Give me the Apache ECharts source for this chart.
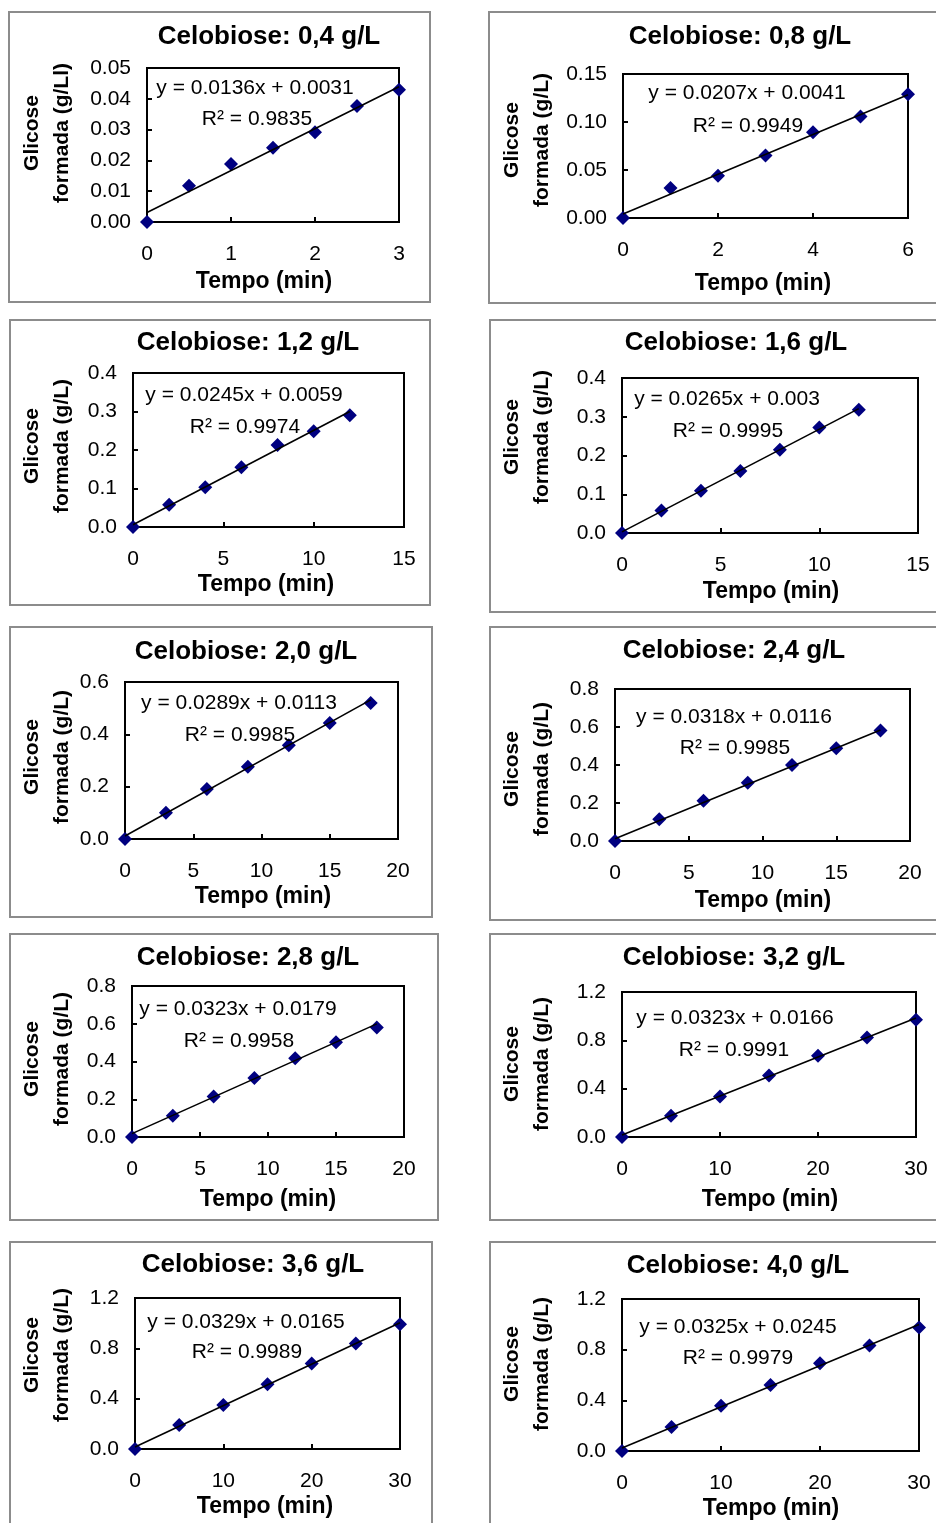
<!DOCTYPE html>
<html>
<head>
<meta charset="utf-8">
<title>Glicose formada x Tempo</title>
<script src="https://cdn.jsdelivr.net/npm/echarts@6/dist/echarts.min.js"></script>
<style>
  html, body { margin: 0; padding: 0; background: #fff; }
  #chart { width: 936px; height: 1523px; }
</style>
</head>
<body>
<div id="chart"></div>
<script>
// Cellobiose concentration of each run (panel titles)
const concentracoes = ['0,4', '0,8', '1,2', '1,6', '2,0', '2,4', '2,8', '3,2', '3,6', '4,0'];

// Sampling times (min) and glucose formed (g/L) for each run
const tempo_0_4 = [0, 0.5, 1, 1.5, 2, 2.5, 3];
const glicose_0_4 = [0, 0.0118, 0.0188, 0.0241, 0.0291, 0.0377, 0.0429];
const tempo_0_8 = [0, 1, 2, 3, 4, 5, 6];
const glicose_0_8 = [0, 0.0312, 0.044, 0.0651, 0.0894, 0.1056, 0.1289];
const tempo_1_2 = [0, 2, 4, 6, 8, 10, 12];
const glicose_1_2 = [0, 0.0577, 0.1035, 0.1552, 0.213, 0.249, 0.29];
const tempo_1_6 = [0, 2, 4, 6, 8, 10, 12];
const glicose_1_6 = [0, 0.058, 0.109, 0.16, 0.215, 0.272, 0.318];
const tempo_2_0 = [0, 3, 6, 9, 12, 15, 18];
const glicose_2_0 = [0, 0.1003, 0.1907, 0.2758, 0.3585, 0.4436, 0.52];
const tempo_2_4 = [0, 3, 6, 9, 12, 15, 18];
const glicose_2_4 = [0, 0.1147, 0.2114, 0.3065, 0.40, 0.4882, 0.5812];
const tempo_2_8 = [0, 3, 6, 9, 12, 15, 18];
const glicose_2_8 = [0, 0.1126, 0.2147, 0.312, 0.4177, 0.5023, 0.5795];
const tempo_3_2 = [0, 5, 10, 15, 20, 25, 30];
const glicose_3_2 = [0, 0.1763, 0.336, 0.5098, 0.6728, 0.8243, 0.9708];
const tempo_3_6 = [0, 5, 10, 15, 20, 25, 30];
const glicose_3_6 = [0, 0.1903, 0.349, 0.5155, 0.6797, 0.8383, 0.9914];
const tempo_4_0 = [0, 5, 10, 15, 20, 25, 30];
const glicose_4_0 = [0, 0.1902, 0.3567, 0.5207, 0.6927, 0.8322, 0.9749];

const tempos = [tempo_0_4, tempo_0_8, tempo_1_2, tempo_1_6, tempo_2_0, tempo_2_4, tempo_2_8, tempo_3_2, tempo_3_6, tempo_4_0];
const glicoses = [glicose_0_4, glicose_0_8, glicose_1_2, glicose_1_6, glicose_2_0, glicose_2_4, glicose_2_8, glicose_3_2, glicose_3_6, glicose_4_0];

// Linear fits y = a·x + b and their R²
const inclinacoes = [0.0136, 0.0207, 0.0245, 0.0265, 0.0289, 0.0318, 0.0323, 0.0323, 0.0329, 0.0325];
const interceptos = [0.0031, 0.0041, 0.0059, 0.003, 0.0113, 0.0116, 0.0179, 0.0166, 0.0165, 0.0245];
const r2 = [0.9835, 0.9949, 0.9974, 0.9995, 0.9985, 0.9985, 0.9958, 0.9991, 0.9989, 0.9979];

// Axis scales and tick labels
const xMax = [3, 6, 15, 15, 20, 20, 20, 30, 30, 30];
const xStep = [1, 2, 5, 5, 5, 5, 5, 10, 10, 10];
const yMax = [0.05, 0.15, 0.4, 0.4, 0.6, 0.8, 0.8, 1.2, 1.2, 1.2];
const yStep = [0.01, 0.05, 0.1, 0.1, 0.2, 0.2, 0.2, 0.4, 0.4, 0.4];
const yDecimais = [2, 2, 1, 1, 1, 1, 1, 1, 1, 1];
const yTitulos = ['formada (g/Ll)', 'formada (g/L)', 'formada (g/L)', 'formada (g/L)', 'formada (g/L)',
                  'formada (g/L)', 'formada (g/L)', 'formada (g/L)', 'formada (g/L)', 'formada (g/L)'];

// Page layout of each panel (pixels): frame, plot area, and text anchors
const layout = [
  { box: [9, 12, 430, 302],    grid: [147, 68, 399, 222],   title: [269, 37],   xname: [264, 282],  yname: [47, 133],   eq: [255, 88],   r2: [257, 119] },
  { box: [489, 12, 945, 303],  grid: [623, 74, 908, 218],   title: [740, 37],   xname: [763, 284],  yname: [527, 140],  eq: [747, 93],   r2: [748, 126] },
  { box: [10, 320, 430, 605],  grid: [133, 373, 404, 527],  title: [248, 343],  xname: [266, 585],  yname: [47, 446],   eq: [244, 395],  r2: [245, 427] },
  { box: [490, 320, 945, 612], grid: [622, 378, 918, 533],  title: [736, 343],  xname: [771, 592],  yname: [527, 437],  eq: [727, 399],  r2: [728, 431] },
  { box: [10, 627, 432, 917],  grid: [125, 682, 398, 839],  title: [246, 652],  xname: [263, 897],  yname: [47, 757],   eq: [239, 703],  r2: [240, 735] },
  { box: [490, 627, 945, 920], grid: [615, 689, 910, 841],  title: [734, 651],  xname: [763, 901],  yname: [527, 769],  eq: [734, 717],  r2: [735, 748] },
  { box: [10, 934, 438, 1220], grid: [132, 986, 404, 1137], title: [248, 958],  xname: [268, 1200], yname: [47, 1059],  eq: [238, 1009], r2: [239, 1041] },
  { box: [490, 934, 945, 1220],grid: [622, 992, 916, 1137], title: [734, 958],  xname: [770, 1200], yname: [527, 1064], eq: [735, 1018], r2: [734, 1050] },
  { box: [10, 1242, 432, 1530],grid: [135, 1298, 400, 1449],title: [253, 1265], xname: [265, 1507], yname: [47, 1355],  eq: [246, 1322], r2: [247, 1352] },
  { box: [490, 1242, 945, 1530],grid: [622, 1299, 919, 1451],title: [738, 1266],xname: [771, 1509], yname: [527, 1364], eq: [738, 1327], r2: [738, 1358] }
];

const FONT = '"Liberation Sans", Arial, Helvetica, sans-serif';
const NAVY = '#000080';

function textEl(x, y, text, size, bold, extra) {
  return Object.assign({
    type: 'text', x: x, y: y, silent: true, z: 10,
    style: {
      text: text,
      font: (bold ? 'bold ' : '') + size + 'px ' + FONT,
      fill: '#000',
      align: 'center', verticalAlign: 'middle',
      textAlign: 'center', textVerticalAlign: 'middle'
    }
  }, extra || {});
}

const option = {
  animation: false,
  backgroundColor: '#fff',
  title: [], grid: [], xAxis: [], yAxis: [], series: [], graphic: []
};

layout.forEach(function (p, i) {
  const [gl, gt, gr, gb] = p.grid;
  const [bl, bt, br, bb] = p.box;

  // panel frame
  option.graphic.push({
    type: 'rect', silent: true, z: 0,
    shape: { x: bl, y: bt, width: br - bl, height: bb - bt },
    style: { fill: 'none', stroke: '#8c8c8c', lineWidth: 2 }
  });

  option.grid.push({
    left: gl, top: gt, width: gr - gl, height: gb - gt,
    show: true, borderColor: '#000', borderWidth: 2, backgroundColor: 'transparent',
    containLabel: false
  });

  option.xAxis.push({
    type: 'value', gridIndex: i, min: 0, max: xMax[i], interval: xStep[i],
    axisLine: { show: true, onZero: false, lineStyle: { color: '#000', width: 2 } },
    axisTick: { show: true, inside: true, length: 5, lineStyle: { color: '#000', width: 2 } },
    axisLabel: { margin: 22, fontSize: 21, fontFamily: FONT, color: '#000' },
    splitLine: { show: false }
  });

  option.yAxis.push({
    type: 'value', gridIndex: i, min: 0, max: yMax[i], interval: yStep[i],
    axisLine: { show: true, onZero: false, lineStyle: { color: '#000', width: 2 } },
    axisTick: { show: true, inside: true, length: 5, lineStyle: { color: '#000', width: 2 } },
    axisLabel: {
      margin: 16, fontSize: 21, fontFamily: FONT, color: '#000',
      formatter: (function (d) { return function (v) { return v.toFixed(d); }; })(yDecimais[i])
    },
    splitLine: { show: false }
  });

  option.title.push({
    text: 'Celobiose: ' + concentracoes[i] + ' g/L',
    left: p.title[0], top: p.title[1], padding: 0,
    textAlign: 'center', textVerticalAlign: 'middle',
    textStyle: { fontSize: 26, fontWeight: 'bold', fontFamily: FONT, color: '#000' }
  });

  const t = tempos[i], g = glicoses[i];
  option.series.push({
    type: 'scatter', xAxisIndex: i, yAxisIndex: i,
    data: t.map(function (x, k) { return [x, g[k]]; }),
    symbol: 'diamond', symbolSize: 14,
    itemStyle: { color: NAVY, opacity: 1 },
    z: 3
  });

  // fitted line over the sampled time range
  const a = inclinacoes[i], b = interceptos[i], tEnd = t[t.length - 1];
  option.series.push({
    type: 'line', xAxisIndex: i, yAxisIndex: i,
    data: [[0, b], [tEnd, a * tEnd + b]],
    showSymbol: false, symbol: 'none',
    lineStyle: { color: '#000', width: 1.6 },
    z: 4, silent: true
  });

  option.graphic.push(textEl(p.eq[0], p.eq[1], 'y = ' + a + 'x + ' + b, 21, false));
  option.graphic.push(textEl(p.r2[0], p.r2[1], 'R² = ' + r2[i], 21, false));
  option.graphic.push(textEl(p.xname[0], p.xname[1], 'Tempo (min)', 23, true));
  const yn = textEl(p.yname[0], p.yname[1], 'Glicose\n' + yTitulos[i], 21, true, { rotation: Math.PI / 2 });
  yn.style.lineHeight = 30;
  option.graphic.push(yn);
});

const chart = echarts.init(document.getElementById('chart'), null, { renderer: 'canvas' });
chart.setOption(option);
</script>
</body>
</html>
